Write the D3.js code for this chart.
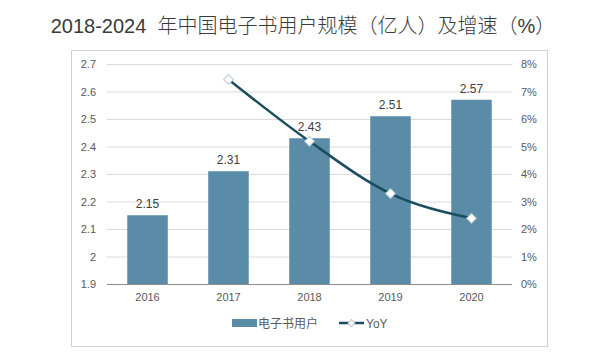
<!DOCTYPE html>
<html lang="zh">
<head>
  <meta charset="UTF-8">
  <title>电子书用户规模</title>
  <style>
      body { margin: 0; background: #fff; }
      text { font-family: "Liberation Sans", Arial, "Noto Sans CJK SC", sans-serif; }
      .grid line { stroke: #d9d9d9; }
      .grid path { stroke-width: 0; }
      .axis path, .axis line { display: none; }
      .axis text { fill: #595959; font-size: 11px; }
  </style>
</head>
<body>
<div id="chart"></div>
<script src="https://d3js.org/d3.v7.min.js"></script>
<script>
  const years = ['2016', '2017', '2018', '2019', '2020'];
  const users = [2.15, 2.31, 2.43, 2.51, 2.57];
  const yoy = [null, 7.44, 5.19, 3.29, 2.39];
  const leftTicks = [1.9, 2, 2.1, 2.2, 2.3, 2.4, 2.5, 2.6, 2.7];
  const rightTicks = [0, 1, 2, 3, 4, 5, 6, 7, 8];

  const W = 609, H = 362;
  const plot = {left: 107, right: 512, top: 64, bottom: 284};

  const svg = d3.select("#chart").append("svg")
    .attr("width", W)
    .attr("height", H);

  // title
  svg.append("text")
    .attr("x", 303)
    .attr("y", 33)
    .attr("text-anchor", "middle")
    .style("font-size", "20px")
    .style("fill", "#3a3a3a")
    .style("white-space", "pre")
    .style("font-family", "'Liberation Sans', 'Noto Sans CJK SC', sans-serif")
    .style("font-weight", 300)
    .text("2018-2024  年中国电子书用户规模（亿人）及增速（%）");

  // chart frame
  svg.append("rect")
    .attr("x", 71.5)
    .attr("y", 50.5)
    .attr("width", 476)
    .attr("height", 296)
    .attr("fill", "none")
    .attr("stroke", "#d0d0d0");

  const x = d3.scaleBand()
    .domain(years)
    .range([plot.left, plot.right])
    .paddingInner(0.5)
    .paddingOuter(0.25);

  const y = d3.scaleLinear()
    .domain([1.9, 2.7])
    .range([plot.bottom, plot.top]);

  const y2 = d3.scaleLinear()
    .domain([0, 8])
    .range([plot.bottom, plot.top]);

  svg.append("g")
    .attr("class", "grid")
    .attr("transform", `translate(${plot.left},0)`)
    .call(d3.axisLeft(y)
      .tickValues(leftTicks.slice(1))
      .tickSize(-(plot.right - plot.left))
      .tickFormat(""));

  svg.append("g")
    .attr("class", "axis")
    .attr("transform", "translate(100,0)")
    .call(d3.axisLeft(y).tickValues(leftTicks).tickSize(0).tickFormat(d3.format("")))
    .selectAll("text").attr("x", -4);

  svg.append("g")
    .attr("class", "axis")
    .attr("transform", "translate(518,0)")
    .call(d3.axisRight(y2).tickValues(rightTicks).tickSize(0).tickFormat(d => d + "%"))
    .selectAll("text").attr("x", 3);

  svg.append("g")
    .attr("class", "axis")
    .attr("transform", `translate(0,${plot.bottom})`)
    .call(d3.axisBottom(x).tickSize(0))
    .selectAll("text").attr("y", 9);

  svg.selectAll(".bar")
    .data(users)
    .enter().append("rect")
    .attr("class", "bar")
    .attr("x", (d, i) => x(years[i]))
    .attr("width", x.bandwidth())
    .attr("y", d => y(d))
    .attr("height", d => plot.bottom - y(d))
    .attr("fill", "#5a8ba7");

  // x baseline
  svg.append("line")
    .attr("x1", plot.left).attr("x2", plot.right)
    .attr("y1", plot.bottom + 0.5).attr("y2", plot.bottom + 0.5)
    .attr("stroke", "#8c8c8c");

  svg.selectAll(".lbl")
    .data(users)
    .enter().append("text")
    .attr("class", "lbl")
    .attr("x", (d, i) => x(years[i]) + x.bandwidth() / 2)
    .attr("y", d => y(d) - 7)
    .attr("text-anchor", "middle")
    .style("font-size", "12px")
    .style("fill", "#404040")
    .text(d => d);

  const pts = yoy.map((v, i) => ({year: years[i], v: v})).filter(d => d.v !== null);
  const cx = d => x(d.year) + x.bandwidth() / 2;

  const line = d3.line()
    .x(cx)
    .y(d => y2(d.v))
    .curve(d3.curveMonotoneX);

  svg.append("path")
    .datum(pts)
    .attr("d", line)
    .attr("fill", "none")
    .attr("stroke", "#1b4d60")
    .attr("stroke-width", 2.5);

  // square symbol turned 45 degrees -> even diamond
  const diamond = d3.symbol().type(d3.symbolSquare).size(48);
  svg.selectAll(".mk")
    .data(pts)
    .enter().append("path")
    .attr("class", "mk")
    .attr("transform", d => `translate(${cx(d)},${y2(d.v)}) rotate(45)`)
    .attr("d", diamond)
    .attr("fill", "#fff")
    .attr("stroke", "#b8c8d2")
    .attr("stroke-width", 1);

  // legend
  const lg = svg.append("g").attr("transform", "translate(0,323)");
  lg.append("rect")
    .attr("x", 232).attr("y", -4).attr("width", 25).attr("height", 8)
    .attr("fill", "#5a8ba7");
  lg.append("text")
    .attr("x", 258).attr("y", 4.5)
    .style("font-size", "12px").style("fill", "#595959")
    .style("font-family", "'Noto Sans CJK SC', sans-serif")
    .text("电子书用户");
  lg.append("line")
    .attr("x1", 339).attr("x2", 364).attr("y1", 0).attr("y2", 0)
    .attr("stroke", "#1b4d60").attr("stroke-width", 2.5);
  lg.append("path")
    .attr("transform", "translate(351.5,0) rotate(45)")
    .attr("d", d3.symbol().type(d3.symbolSquare).size(24))
    .attr("fill", "#fff")
    .attr("stroke", "#b8c8d2");
  lg.append("text")
    .attr("x", 366).attr("y", 4.5)
    .style("font-size", "12px").style("fill", "#595959")
    .text("YoY");
</script>
</body>
</html>
